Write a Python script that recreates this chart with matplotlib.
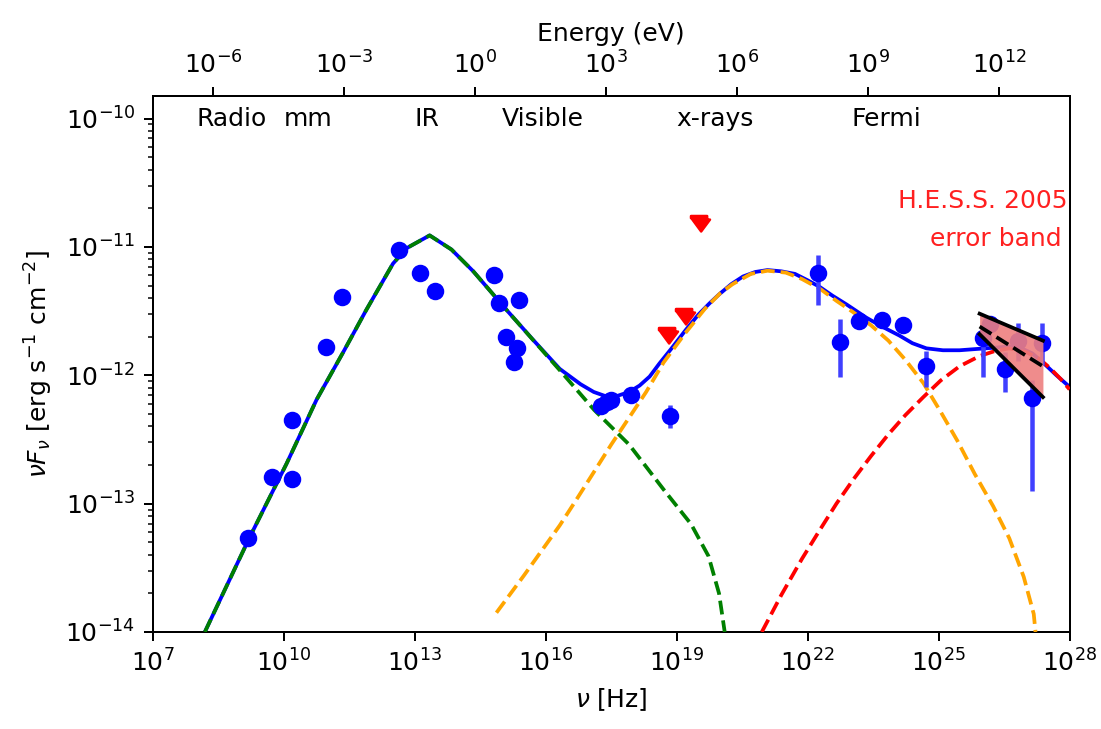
import numpy as np
import matplotlib
matplotlib.use('Agg')
import matplotlib.pyplot as plt
from matplotlib import ticker
from matplotlib.path import Path

# SED of the source: log10(nu / Hz) and log10(nuFnu / erg s^-1 cm^-2)
sed_lognu = [9.18, 9.72, 10.19, 10.19, 10.96, 11.34, 12.64, 13.11, 13.46,
             14.81, 14.92, 15.39, 15.10, 15.33, 15.27,
             17.27, 17.40, 17.50, 17.96, 18.84,
             22.24, 22.73, 23.17, 23.71, 24.18, 24.72,
             26.01, 26.17, 26.51, 26.83, 27.13, 27.38]
sed_logf = [-13.27, -12.79, -12.81, -12.35, -11.78, -11.39, -11.02, -11.20, -11.34,
            -11.22, -11.44, -11.41, -11.70, -11.79, -11.90,
            -12.24, -12.21, -12.19, -12.15, -12.32,
            -11.20, -11.74, -11.58, -11.57, -11.61, -11.93,
            -11.71, -11.60, -11.95, -11.73, -12.18, -11.75]
# error bars in dex (below, above)
sed_dlo = [0, 0, 0, 0, 0, 0.05, 0, 0, 0,
           0.05, 0.05, 0.05, 0.05, 0, 0.05,
           0, 0, 0, 0, 0.09,
           0.25, 0.27, 0, 0, 0, 0.16,
           0.30, 0.06, 0.18, 0.16, 0.72, 0.17]
sed_dhi = [0, 0, 0, 0, 0, 0.05, 0, 0, 0,
           0.05, 0.05, 0.05, 0.05, 0, 0.05,
           0, 0, 0, 0, 0.09,
           0.14, 0.18, 0, 0, 0, 0.12,
           0.10, 0.06, 0.13, 0.14, 0.14, 0.16]

# x-ray upper limits
ul_lognu = [18.80, 19.18, 19.53]
ul_logf = [-11.70, -11.55, -10.83]

# model components
sync_lognu = [8.19, 9.22, 10.06, 10.75, 11.36, 11.89, 12.50, 12.81, 13.34, 13.84,
              14.34, 15.10, 16.32, 17.11, 17.91, 18.70, 19.33, 19.73, 19.97, 20.10]
sync_logf = [-14.0, -13.26, -12.69, -12.19, -11.82, -11.49, -11.13, -11.01, -10.91, -11.02,
             -11.19, -11.49, -11.96, -12.27, -12.54, -12.89, -13.16, -13.41, -13.70, -14.0]

ic_lognu = [14.87, 15.50, 16.32, 16.70, 17.11, 17.50, 17.91, 18.30, 18.70, 19.20,
            19.65, 20.00, 20.28, 20.70, 21.08, 21.50, 21.87, 22.30, 22.66, 23.05,
            23.45, 23.85, 24.24, 24.65, 25.04, 25.43, 25.83, 26.25, 26.62, 26.95,
            27.18, 27.22]
ic_logf = [-13.85, -13.56, -13.17, -12.97, -12.75, -12.54, -12.33, -12.13, -11.90, -11.67,
           -11.48, -11.36, -11.29, -11.21, -11.185, -11.20, -11.25, -11.33, -11.42, -11.51,
           -11.61, -11.73, -11.88, -12.06, -12.28, -12.51, -12.77, -13.02, -13.27, -13.57,
           -13.86, -14.0]

had_lognu = [20.95, 21.40, 21.87, 22.27, 22.66, 23.05, 23.45, 23.85, 24.24, 24.65,
             25.05, 25.48, 25.94, 26.30, 26.62, 27.01, 27.30, 27.54, 27.80, 28.0]
had_logf = [-14.0, -13.71, -13.43, -13.21, -13.00, -12.81, -12.63, -12.46, -12.31, -12.17,
            -12.04, -11.93, -11.85, -11.81, -11.79, -11.82, -11.87, -11.94, -12.03, -12.11]

tot_lognu = [8.19, 9.22, 10.06, 10.75, 11.36, 11.89, 12.50, 12.81, 13.34, 13.84,
             14.34, 15.10, 15.70, 16.32, 16.80, 17.10, 17.35, 17.60, 17.91, 18.15,
             18.38, 18.60, 18.86, 19.20, 19.49, 19.75, 19.97, 20.25, 20.52, 20.80,
             21.08, 21.40, 21.71, 22.00, 22.27, 22.57, 22.90, 23.34, 23.70, 24.10,
             24.40, 24.72, 25.10, 25.48, 26.07, 26.35, 26.62, 26.90, 27.15, 27.42,
             27.70, 28.0]
tot_logf = [-14.0, -13.26, -12.69, -12.19, -11.82, -11.49, -11.13, -11.01, -10.91, -11.02,
            -11.19, -11.49, -11.72, -11.95, -12.07, -12.13, -12.16, -12.165, -12.13, -12.08,
            -12.01, -11.91, -11.80, -11.65, -11.53, -11.44, -11.37, -11.29, -11.23, -11.195,
            -11.18, -11.19, -11.21, -11.26, -11.31, -11.38, -11.45, -11.55, -11.62, -11.69,
            -11.75, -11.79, -11.805, -11.805, -11.79, -11.783, -11.775, -11.79, -11.83, -11.91,
            -12.0, -12.09]

# H.E.S.S. 2005 bow-tie (start / end of the upper, best-fit and lower spectra)
hess_lognu = [25.94, 27.39]
hess_hi = [-11.52, -11.73]
hess_mid = [-11.62, -11.93]
hess_lo = [-11.68, -12.17]

bands = ['Radio', 'mm', 'IR', 'Visible', 'x-rays', 'Fermi']
band_lognu = [8, 10, 13, 15, 19, 23]

h_ev = 4.135667696e-15  # Planck constant in eV s


def lin(a):
    return 10.0 ** np.asarray(a)


fig = plt.figure(figsize=(6.12, 4.05), dpi=180)
ax = fig.add_axes([0.1388, 0.1331, 0.8321, 0.7352])
ax.set_xscale('log')
ax.set_yscale('log')

# model curves
ax.plot(lin(tot_lognu), lin(tot_logf), color='b', zorder=2)
ax.plot(lin(sync_lognu), lin(sync_logf), '--', color='g', zorder=3)
ax.plot(lin(ic_lognu), lin(ic_logf), '--', color='orange', zorder=3)
ax.plot(lin(had_lognu), lin(had_logf), '--', color='r', zorder=3)

# data points
nu = lin(sed_lognu)
f = lin(sed_logf)
yerr = [f - f * 10.0 ** -np.asarray(sed_dlo), f * 10.0 ** np.asarray(sed_dhi) - f]
ax.errorbar(nu, f, yerr=yerr, fmt='o', color='b', ecolor=(0.25, 0.25, 1.0),
            elinewidth=1.8, capsize=0, zorder=4)

# upper limit marker: down triangle with a bar on top
ul_marker = Path([(-0.85, 0.62), (1.0, 0.62), (0.07, -0.63), (-0.85, 0.62),
                  (-1.0, 0.76), (0.7, 0.76), (0.7, 1.0), (-1.0, 1.0), (-1.0, 0.76)],
                 [Path.MOVETO, Path.LINETO, Path.LINETO, Path.CLOSEPOLY,
                  Path.MOVETO, Path.LINETO, Path.LINETO, Path.LINETO, Path.CLOSEPOLY])
ax.plot(lin(ul_lognu), lin(ul_logf), linestyle='none', marker=ul_marker,
        markersize=7.6, color='r', zorder=5)

# H.E.S.S. error band
hx = lin(hess_lognu)
ax.fill_between(hx, lin(hess_lo), lin(hess_hi), color='#ee8080', alpha=0.9, zorder=5, linewidth=0)
ax.plot(hx, lin(hess_hi), color='k', zorder=6)
ax.plot(hx, lin(hess_mid), '--', color='k', zorder=6)
ax.plot(hx, lin(hess_lo), color='k', zorder=6)
ax.text(0.998, 0.805, 'H.E.S.S. 2005', color='#ff2020', ha='right', va='center',
        transform=ax.transAxes)
ax.text(0.991, 0.733, 'error band', color='#ff2020', ha='right', va='center',
        transform=ax.transAxes)

for name, x in zip(bands, band_lognu):
    ax.text(10.0 ** x, 1e-10, name, ha='left', va='center')

ax.set_xlim(1e7, 1e28)
ax.set_ylim(1e-14, 1.5e-10)
ax.set_xticks(10.0 ** np.arange(7, 29, 3))
ax.xaxis.set_minor_locator(ticker.NullLocator())
ax.set_xlabel(r'$\nu$ [Hz]')
ax.set_ylabel(r'$\nu F_\nu$ [erg s$^{-1}$ cm$^{-2}$]')

sec = ax.secondary_xaxis('top', functions=(lambda x: x * h_ev, lambda e: e / h_ev))
sec.set_xticks(10.0 ** np.arange(-6, 13, 3))
sec.xaxis.set_minor_locator(ticker.NullLocator())
sec.set_xlabel('Energy (eV)')

fig.savefig('out.png', dpi=180)
